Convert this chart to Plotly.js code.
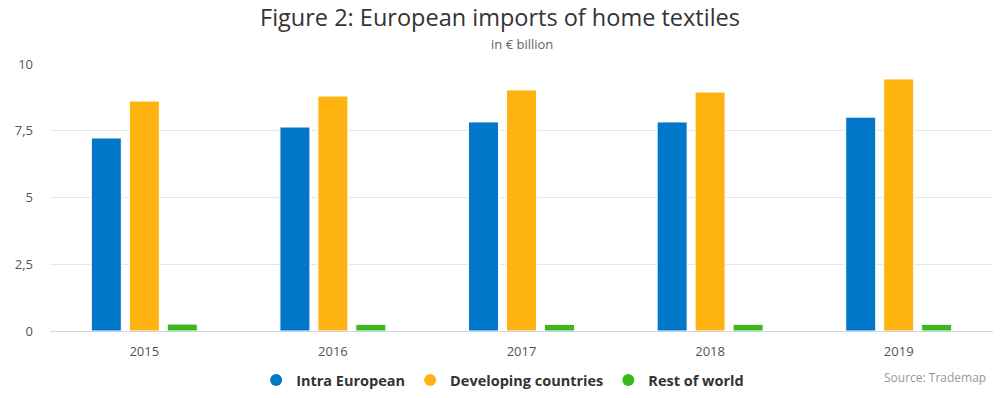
<!DOCTYPE html>
<html>
<head>
<meta charset="utf-8">
<script src="https://cdn.plot.ly/plotly-3.0.1.min.js"></script>
<style>html,body{margin:0;padding:0;background:#fff;}#chart{width:1000px;height:398px;}</style>
</head>
<body>
<div id="chart"></div>
<script>
const years = ['2015', '2016', '2017', '2018', '2019'];
const intraEuropean = [7.23, 7.64, 7.83, 7.83, 8.01];
const developingCountries = [8.61, 8.80, 9.03, 8.95, 9.44];
const restOfWorld = [0.26, 0.25, 0.25, 0.25, 0.25];
const seriesNames = ['Intra European', 'Developing countries', 'Rest of world'];
const seriesColors = ['#0077c8', '#ffb310', '#3cb81c'];
const yTicks = [0, 2.5, 5, 7.5, 10];

const seriesValues = [intraEuropean, developingCountries, restOfWorld];
const font = '"Open Sans", "DejaVu Sans", sans-serif';

const traces = [];
seriesValues.forEach((vals, i) => {
  traces.push({
    type: 'bar', x: years, y: vals, name: seriesNames[i], showlegend: false,
    marker: {color: seriesColors[i], line: {color: '#ffffff', width: 1}},
    hoverinfo: 'x+y+name'
  });
});
seriesValues.forEach((vals, i) => {
  traces.push({
    type: 'scatter', mode: 'markers', x: [null], y: [null], name: seriesNames[i],
    marker: {color: seriesColors[i], symbol: 'circle', size: 14}, showlegend: true
  });
});

const layout = {
  width: 1000, height: 398,
  margin: {l: 50, r: 7, t: 64, b: 67},
  paper_bgcolor: '#ffffff', plot_bgcolor: '#ffffff',
  separators: ',.',
  font: {family: font, color: '#333333', size: 13},
  title: {text: 'Figure 2: European imports of home textiles', x: 0.5, xanchor: 'center', y: 0.955, yanchor: 'middle', font: {family: font, size: 23.5, color: '#333333'}},
  barmode: 'group', bargap: 0.396, bargroupgap: 0.21,
  xaxis: {type: 'category', showgrid: false, showline: true, linecolor: '#ccd6eb', linewidth: 1,
          ticks: '', ticklabelstandoff: 8, tickfont: {family: font, size: 13, color: '#555555'}, fixedrange: true},
  yaxis: {range: [0, 10], tickvals: yTicks, tickformat: ',.1~f', showgrid: true, gridcolor: '#e6e6e6', gridwidth: 1,
          zeroline: false, showline: false, ticks: '', ticklabelstandoff: 16,
          tickfont: {family: font, size: 13, color: '#555555'}, fixedrange: true},
  legend: {orientation: 'h', xref: 'paper', yref: 'container', x: 0.48, xanchor: 'center', y: 0.045, yanchor: 'middle',
           font: {family: font, size: 14.5, color: '#333333', weight: 'bold'}, itemsizing: 'constant'},
  annotations: [
    {text: 'in € billion', xref: 'paper', yref: 'paper', x: 0.5, xanchor: 'center', y: 1.075, yanchor: 'middle',
     showarrow: false, font: {family: font, size: 13, color: '#666666'}},
    {text: 'Source: Trademap', xref: 'paper', yref: 'paper', x: 0.995, xanchor: 'right', y: -0.175, yanchor: 'middle',
     showarrow: false, font: {family: font, size: 12, color: '#999999'}}
  ],
  showlegend: true
};

Plotly.newPlot('chart', traces, layout, {displayModeBar: false, staticPlot: false});
</script>
</body>
</html>
